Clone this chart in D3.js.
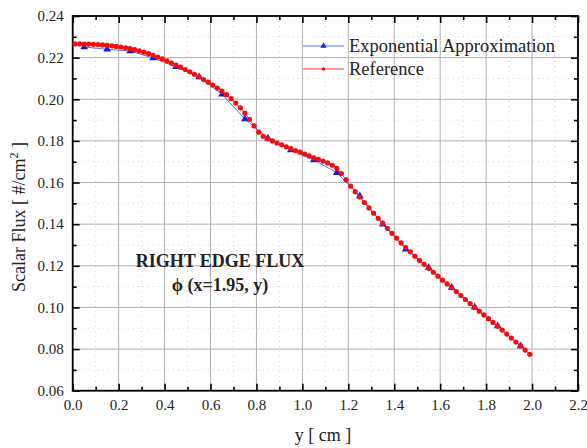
<!DOCTYPE html>
<html>
<head>
<meta charset="utf-8">
<script src="https://cdn.jsdelivr.net/npm/d3@7"></script>
<style>
  body { margin: 0; background: #fff; }
  svg text { font-family: "Liberation Serif", "Times New Roman", serif; }
</style>
</head>
<body>
<svg id="chart" width="587" height="448"></svg>
<script>
// Reference solution (cell centres)
var refX = [0.01, 0.03, 0.05, 0.07, 0.09, 0.11, 0.13, 0.15, 0.17, 0.19,
            0.21, 0.23, 0.25, 0.27, 0.29, 0.31, 0.33, 0.35, 0.37, 0.39,
            0.41, 0.43, 0.45, 0.47, 0.49, 0.51, 0.53, 0.55, 0.57, 0.59,
            0.61, 0.63, 0.65, 0.67, 0.69, 0.71, 0.73, 0.75, 0.77, 0.79,
            0.81, 0.83, 0.85, 0.87, 0.89, 0.91, 0.93, 0.95, 0.97, 0.99,
            1.01, 1.03, 1.05, 1.07, 1.09, 1.11, 1.13, 1.15, 1.17, 1.19,
            1.21, 1.23, 1.25, 1.27, 1.29, 1.31, 1.33, 1.35, 1.37, 1.39,
            1.41, 1.43, 1.45, 1.47, 1.49, 1.51, 1.53, 1.55, 1.57, 1.59,
            1.61, 1.63, 1.65, 1.67, 1.69, 1.71, 1.73, 1.75, 1.77, 1.79,
            1.81, 1.83, 1.85, 1.87, 1.89, 1.91, 1.93, 1.95, 1.97, 1.99];
var refY = [0.2266, 0.2266, 0.2265, 0.2265, 0.2264, 0.2263, 0.2261, 0.2259, 0.2257, 0.2254,
            0.2251, 0.2247, 0.2243, 0.2238, 0.2232, 0.2226, 0.2219, 0.2211, 0.2203, 0.2194,
            0.2184, 0.2174, 0.2164, 0.2154, 0.2143, 0.2132, 0.2120, 0.2108, 0.2095, 0.2082,
            0.2068, 0.2054, 0.2039, 0.2022, 0.2003, 0.1982, 0.1959, 0.1933, 0.1904, 0.1872,
            0.1842, 0.1822, 0.1810, 0.1800, 0.1790, 0.1781, 0.1772, 0.1763, 0.1754, 0.1746,
            0.1737, 0.1728, 0.1719, 0.1711, 0.1703, 0.1694, 0.1683, 0.1668, 0.1643, 0.1613,
            0.1583, 0.1556, 0.1530, 0.1504, 0.1478, 0.1453, 0.1428, 0.1404, 0.1380, 0.1356,
            0.1333, 0.1310, 0.1288, 0.1267, 0.1246, 0.1226, 0.1207, 0.1188, 0.1169, 0.1150,
            0.1131, 0.1113, 0.1095, 0.1076, 0.1057, 0.1038, 0.1019, 0.1000, 0.0982, 0.0964,
            0.0946, 0.0928, 0.0910, 0.0891, 0.0872, 0.0853, 0.0834, 0.0815, 0.0795, 0.0775];

// Exponential approximation (coarse cells)
var expX = [0.05, 0.15, 0.25, 0.35, 0.45, 0.55, 0.65, 0.75, 0.85, 0.95,
            1.05, 1.15, 1.25, 1.35, 1.45, 1.55, 1.65, 1.75, 1.85, 1.95];
var expY = [0.2251, 0.2240, 0.2232, 0.2198, 0.2156, 0.2107, 0.2024, 0.1905, 0.1813, 0.1756,
            0.1708, 0.1647, 0.1535, 0.1400, 0.1280, 0.1191, 0.1096, 0.1001, 0.0911, 0.0815];

var xTicks = [0.0, 0.2, 0.4, 0.6, 0.8, 1.0, 1.2, 1.4, 1.6, 1.8, 2.0, 2.2];
var yTicks = [0.06, 0.08, 0.10, 0.12, 0.14, 0.16, 0.18, 0.20, 0.22, 0.24];
var xMinor = [0.1, 0.3, 0.5, 0.7, 0.9, 1.1, 1.3, 1.5, 1.7, 1.9, 2.1];
var yMinor = [0.07, 0.09, 0.11, 0.13, 0.15, 0.17, 0.19, 0.21, 0.23];

// plot box ("top" is taken by window.top, so use other names)
var pL = 72.7, pR = 578, pT = 16, pB = 390.7;
var w = pR - pL, h = pB - pT;

var svg = d3.select("#chart");

var x = d3.scaleLinear().domain([0, 2.2]).range([pL, pR]);
var y = d3.scaleLinear().domain([0.06, 0.24]).range([pB, pT]);

// minor grid (dotted)
var grid = svg.append("g");
grid.selectAll(".vminor").data(xMinor).enter().append("line")
    .attr("x1", function (d) { return x(d); }).attr("x2", function (d) { return x(d); })
    .attr("y1", pT).attr("y2", pB)
    .attr("stroke", "#d4d4d4").attr("stroke-width", 1).attr("stroke-dasharray", "1,4");
grid.selectAll(".hminor").data(yMinor).enter().append("line")
    .attr("y1", function (d) { return y(d); }).attr("y2", function (d) { return y(d); })
    .attr("x1", pL).attr("x2", pR)
    .attr("stroke", "#d4d4d4").attr("stroke-width", 1).attr("stroke-dasharray", "1,4");

// major grid
grid.selectAll(".vmajor").data(xTicks).enter().append("line")
    .attr("x1", function (d) { return x(d); }).attr("x2", function (d) { return x(d); })
    .attr("y1", pT).attr("y2", pB)
    .attr("stroke", "#b0b0b0").attr("stroke-width", 1);
grid.selectAll(".hmajor").data(yTicks).enter().append("line")
    .attr("y1", function (d) { return y(d); }).attr("y2", function (d) { return y(d); })
    .attr("x1", pL).attr("x2", pR)
    .attr("stroke", "#b0b0b0").attr("stroke-width", 1);

// axes with inward ticks
function styleAxis(g) {
    g.select(".domain").remove();
    g.selectAll(".tick line").attr("stroke", "#000").attr("stroke-width", 1.6);
    g.selectAll(".tick text").attr("font-size", "15px").attr("fill", "#222")
        .style("font-family", "'Liberation Serif', serif");
}

svg.append("g").attr("transform", "translate(0," + pB + ")")
    .call(d3.axisBottom(x).tickValues(xTicks).tickSizeInner(-7).tickPadding(9)
        .tickFormat(d3.format(".1f")))
    .call(styleAxis);
svg.append("g").attr("transform", "translate(0," + pB + ")")
    .call(d3.axisBottom(x).tickValues(xMinor).tickSizeInner(-4).tickFormat(""))
    .call(styleAxis);
svg.append("g").attr("transform", "translate(0," + pT + ")")
    .call(d3.axisTop(x).tickValues(xTicks).tickSizeInner(-7).tickFormat(""))
    .call(styleAxis);
svg.append("g").attr("transform", "translate(0," + pT + ")")
    .call(d3.axisTop(x).tickValues(xMinor).tickSizeInner(-4).tickFormat(""))
    .call(styleAxis);

svg.append("g").attr("transform", "translate(" + pL + ",0)")
    .call(d3.axisLeft(y).tickValues(yTicks).tickSizeInner(-7).tickPadding(9)
        .tickFormat(d3.format(".2f")))
    .call(styleAxis);
svg.append("g").attr("transform", "translate(" + pL + ",0)")
    .call(d3.axisLeft(y).tickValues(yMinor).tickSizeInner(-4).tickFormat(""))
    .call(styleAxis);
svg.append("g").attr("transform", "translate(" + pR + ",0)")
    .call(d3.axisRight(y).tickValues(yTicks).tickSizeInner(-7).tickFormat(""))
    .call(styleAxis);
svg.append("g").attr("transform", "translate(" + pR + ",0)")
    .call(d3.axisRight(y).tickValues(yMinor).tickSizeInner(-4).tickFormat(""))
    .call(styleAxis);

// frame
svg.append("rect").attr("x", pL).attr("y", pT).attr("width", w).attr("height", h)
    .attr("fill", "none").attr("stroke", "#000").attr("stroke-width", 1.8);

// series
var refData = refX.map(function (d, i) { return [d, refY[i]]; });
var expData = expX.map(function (d, i) { return [d, expY[i]]; });

var line = d3.line().x(function (d) { return x(d[0]); }).y(function (d) { return y(d[1]); });

svg.append("path").datum(expData).attr("d", line)
    .attr("fill", "none").attr("stroke", "#5b6cf0").attr("stroke-width", 1);
svg.append("path").datum(refData).attr("d", line)
    .attr("fill", "none").attr("stroke", "#ff3030").attr("stroke-width", 1);

var tri = d3.symbol().type(d3.symbolTriangle).size(26);
svg.selectAll(".tri").data(expData).enter().append("path")
    .attr("d", tri)
    .attr("transform", function (d) { return "translate(" + x(d[0]) + "," + y(d[1]) + ")"; })
    .attr("fill", "#1a1ad6");

svg.selectAll(".dot").data(refData).enter().append("circle")
    .attr("cx", function (d) { return x(d[0]); })
    .attr("cy", function (d) { return y(d[1]); })
    .attr("r", 2.6)
    .attr("fill", "#ee1010");

// legend
var lg = svg.append("g");
lg.append("line").attr("x1", 303).attr("x2", 344).attr("y1", 46).attr("y2", 46)
    .attr("stroke", "#5b6cf0").attr("stroke-width", 1);
lg.append("path").attr("d", d3.symbol().type(d3.symbolTriangle).size(18))
    .attr("transform", "translate(323.5,46)").attr("fill", "#1a1ad6");
lg.append("text").attr("x", 349).attr("y", 52).attr("font-size", "18.5px").attr("fill", "#222")
    .text("Exponential Approximation");
lg.append("line").attr("x1", 303).attr("x2", 344).attr("y1", 69).attr("y2", 69)
    .attr("stroke", "#ff3030").attr("stroke-width", 1);
lg.append("circle").attr("cx", 323.5).attr("cy", 69).attr("r", 1.8).attr("fill", "#ee1010");
lg.append("text").attr("x", 349).attr("y", 75).attr("font-size", "18.5px").attr("fill", "#222")
    .text("Reference");

// annotation
svg.append("text").attr("x", 220).attr("y", 267).attr("text-anchor", "middle")
    .attr("font-size", "18px").attr("font-weight", "bold").attr("fill", "#222")
    .text("RIGHT EDGE FLUX");
svg.append("text").attr("x", 220).attr("y", 291).attr("text-anchor", "middle")
    .attr("font-size", "18px").attr("font-weight", "bold").attr("fill", "#222")
    .text("\u03d5 (x=1.95, y)");

// axis titles
svg.append("text").attr("x", 323).attr("y", 441).attr("text-anchor", "middle")
    .attr("font-size", "18px").attr("fill", "#222").text("y [ cm ]");

var yl = svg.append("text").attr("transform", "translate(25," + 217 + ") rotate(-90)")
    .attr("text-anchor", "middle").attr("font-size", "18px").attr("fill", "#222");
yl.append("tspan").text("Scalar Flux [ #/cm");
yl.append("tspan").attr("baseline-shift", "super").attr("font-size", "12px").text("2");
yl.append("tspan").text(" ]");
</script>
</body>
</html>
